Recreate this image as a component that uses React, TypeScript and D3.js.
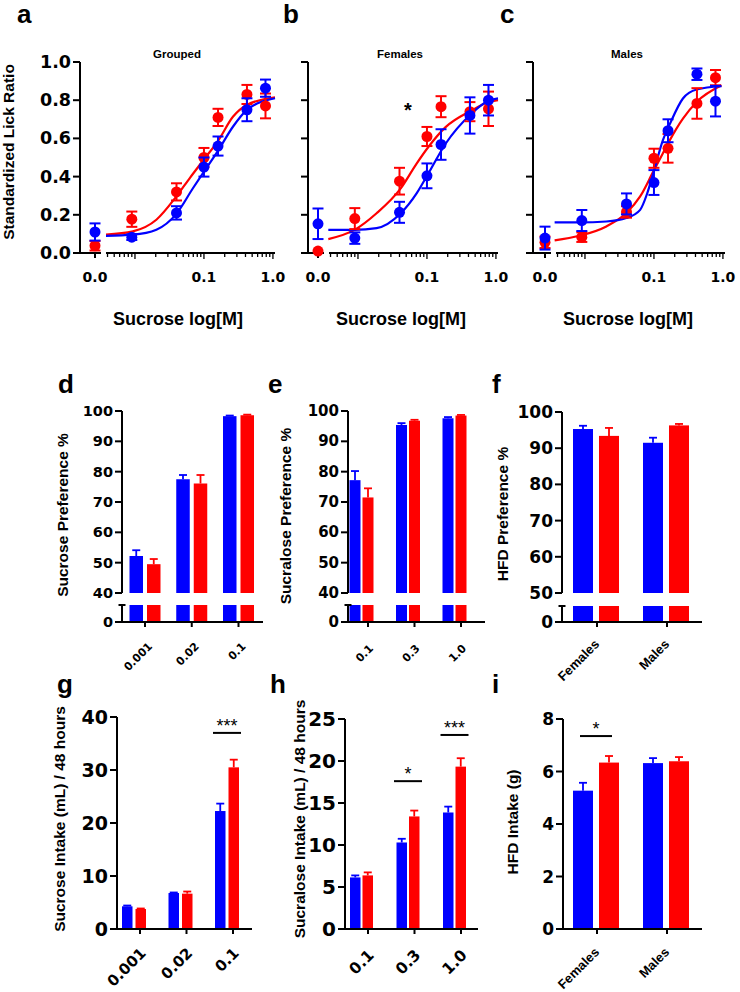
import React, { useEffect, useRef } from "react";
import * as d3 from "d3";

const W = 740;
const H = 992;
const BLUE = "#0000ff";
const RED = "#ff0000";
const TITLE_FONT = "Arial, 'Liberation Sans', sans-serif";
const TICK_FONT = "'DejaVu Sans', Verdana, sans-serif";

// ---- lick ratio curves (a-c) ----
const doses = [0, 0.009, 0.04, 0.1, 0.16, 0.42, 0.78];
const curveXTicks = [0.1, 1];
const curveYTicks = [0, 0.2, 0.4, 0.6, 0.8, 1.0];

const groupedBlue = [0.11, 0.083, 0.21, 0.45, 0.56, 0.75, 0.863];
const groupedBlueSem = [0.045, 0.015, 0.035, 0.05, 0.05, 0.06, 0.045];
const groupedRed = [0.038, 0.177, 0.32, 0.5, 0.71, 0.83, 0.77];
const groupedRedSem = [0.025, 0.04, 0.045, 0.05, 0.045, 0.05, 0.065];

const femaleBlue = [0.153, 0.078, 0.213, 0.404, 0.568, 0.72, 0.8];
const femaleBlueSem = [0.08, 0.03, 0.055, 0.065, 0.08, 0.095, 0.08];
const femaleRed = [0.01, 0.18, 0.376, 0.61, 0.766, 0.74, 0.755];
const femaleRedSem = [0, 0.055, 0.07, 0.05, 0.055, 0.05, 0.09];

const maleBlue = [0.078, 0.17, 0.257, 0.369, 0.64, 0.936, 0.795];
const maleBlueSem = [0.06, 0.055, 0.055, 0.065, 0.06, 0.03, 0.08];
const maleRed = [0.056, 0.083, 0.215, 0.496, 0.548, 0.783, 0.918];
const maleRedSem = [0.03, 0.025, 0.03, 0.05, 0.075, 0.08, 0.04];

// fitted curves: [log10 dose, ratio]
const groupedBlueFit: [number, number][] = [
  [-2.42, 0.09], [-2.03, 0.096], [-1.69, 0.122], [-1.4, 0.205], [-1.16, 0.339],
  [-1.0, 0.426], [-0.79, 0.539], [-0.58, 0.661], [-0.38, 0.748], [0.03, 0.81],
];
const groupedRedFit: [number, number][] = [
  [-2.42, 0.096], [-2.03, 0.113], [-1.69, 0.174], [-1.4, 0.296], [-1.2, 0.395],
  [-1.0, 0.49], [-0.79, 0.59], [-0.58, 0.713], [-0.38, 0.775], [0.03, 0.815],
];
const femaleBlueFit: [number, number][] = [
  [-2.43, 0.121], [-2.05, 0.121], [-1.73, 0.13], [-1.38, 0.208], [-1.15, 0.312],
  [-0.98, 0.416], [-0.73, 0.572], [-0.36, 0.728], [-0.11, 0.797], [0.03, 0.81],
];
const femaleRedFit: [number, number][] = [
  [-2.43, 0.073], [-2.05, 0.121], [-1.73, 0.208], [-1.38, 0.338], [-1.15, 0.468],
  [-0.98, 0.555], [-0.73, 0.659], [-0.36, 0.745], [-0.11, 0.789], [0.03, 0.8],
];
const maleBlueFit: [number, number][] = [
  [-2.44, 0.16], [-2.08, 0.16], [-1.69, 0.165], [-1.4, 0.183], [-1.2, 0.226],
  [-1.1, 0.31], [-1.01, 0.417], [-0.87, 0.591], [-0.77, 0.675], [-0.58, 0.809],
  [-0.38, 0.856], [-0.02, 0.873],
];
const maleRedFit: [number, number][] = [
  [-2.44, 0.066], [-2.08, 0.09], [-1.69, 0.139], [-1.4, 0.209], [-1.2, 0.296],
  [-1.01, 0.426], [-0.87, 0.522], [-0.77, 0.591], [-0.58, 0.704], [-0.38, 0.791],
  [-0.02, 0.878],
];

// ---- preference (d-f) ----
const sucroseCats = ["0.001", "0.02", "0.1"];
const sucralCats = ["0.1", "0.3", "1.0"];
const sexCats = ["Females", "Males"];

const sucPrefBlue = [52.2, 77.5, 98.3];
const sucPrefBlueErr = [1.9, 1.4, 0.2];
const sucPrefRed = [49.5, 76.1, 98.6];
const sucPrefRedErr = [1.7, 2.8, 0.2];

const sclPrefBlue = [77.2, 95.4, 97.6];
const sclPrefBlueErr = [3.0, 0.6, 0.4];
const sclPrefRed = [71.5, 96.8, 98.5];
const sclPrefRedErr = [3.0, 0.3, 0.2];

const hfdPrefBlue = [95.3, 91.5];
const hfdPrefBlueErr = [0.9, 1.4];
const hfdPrefRed = [93.4, 96.3];
const hfdPrefRedErr = [2.2, 0.4];

// ---- intake (g-i) ----
const sucIntBlue = [4.28, 6.79, 22.26];
const sucIntBlueErr = [0.15, 0.1, 1.4];
const sucIntRed = [3.77, 6.67, 30.5];
const sucIntRedErr = [0.1, 0.4, 1.45];

const sclIntBlue = [6.14, 10.3, 13.87];
const sclIntBlueErr = [0.24, 0.44, 0.7];
const sclIntRed = [6.38, 13.4, 19.33];
const sclIntRedErr = [0.36, 0.7, 1.0];

const hfdIntBlue = [5.27, 6.32];
const hfdIntBlueErr = [0.3, 0.19];
const hfdIntRed = [6.34, 6.39];
const hfdIntRedErr = [0.25, 0.16];

const prefTicks = [40, 50, 60, 70, 80, 90, 100];
const hfdPrefTicks = [50, 60, 70, 80, 90, 100];
const sucIntTicks = [0, 10, 20, 30, 40];
const sclIntTicks = [0, 5, 10, 15, 20, 25];
const hfdIntTicks = [0, 2, 4, 6, 8];

type Sel = d3.Selection<SVGGElement, unknown, null, undefined>;

function label(g: Sel, text: string, x: number, y: number, size: number, opts: any = {}) {
  const t = g
    .append("text")
    .attr("x", x)
    .attr("y", y)
    .attr("font-family", opts.font || TITLE_FONT)
    .attr("font-weight", opts.weight || "bold")
    .attr("font-size", size)
    .attr("text-anchor", opts.anchor || "middle")
    .attr("fill", "#000")
    .text(text);
  if (opts.rotate) t.attr("transform", `rotate(${opts.rotate},${x},${y})`);
  if (opts.baseline) t.attr("dominant-baseline", opts.baseline);
  return t;
}

interface CurvePanel {
  off: number;
  yAxisX: number;
  title: string;
  blue: number[];
  blueSem: number[];
  red: number[];
  redSem: number[];
  blueFit: [number, number][];
  redFit: [number, number][];
  yLabels: boolean;
  letter: string;
  letterX: number;
  star?: [number, number];
}

function drawCurvePanel(root: Sel, p: CurvePanel) {
  const g = root.append("g");
  const y = d3.scaleLinear().domain([0, 1]).range([253, 62]);
  const x = d3
    .scaleLog()
    .domain([10 ** -2.42, 10 ** 0.03])
    .range([p.off + 106, p.off + 275]);
  const zeroX = p.off + 95;
  const xPos = (d: number) => (d === 0 ? zeroX : x(d));

  // y axis
  g.append("line").attr("x1", p.yAxisX).attr("x2", p.yAxisX).attr("y1", y(1)).attr("y2", y(0))
    .attr("stroke", "#000").attr("stroke-width", 2);
  curveYTicks.forEach((t) => {
    g.append("line").attr("x1", p.yAxisX - 7).attr("x2", p.yAxisX).attr("y1", y(t)).attr("y2", y(t))
      .attr("stroke", "#000").attr("stroke-width", 2);
    if (p.yLabels)
      label(g, d3.format(".1f")(t), p.yAxisX - 9, y(t), 17.5, { anchor: "end", font: TICK_FONT, baseline: "central" });
  });

  // x axis: zero segment + log segment
  const ay = y(0);
  g.append("line").attr("x1", p.yAxisX).attr("x2", zeroX + 6).attr("y1", ay).attr("y2", ay)
    .attr("stroke", "#000").attr("stroke-width", 2);
  g.append("line").attr("x1", zeroX).attr("x2", zeroX).attr("y1", ay).attr("y2", ay + 5)
    .attr("stroke", "#000").attr("stroke-width", 2);
  const [d0, d1] = x.domain();
  g.append("line").attr("x1", x(d0)).attr("x2", x(d1)).attr("y1", ay).attr("y2", ay)
    .attr("stroke", "#000").attr("stroke-width", 2);
  const logTicks: { v: number; major: boolean }[] = [];
  for (let e = -3; e <= 0; e++) {
    for (let k = 1; k <= 9; k++) {
      const v = k * 10 ** e;
      if (v >= d0 && v <= d1) logTicks.push({ v, major: k === 1 });
    }
  }
  logTicks.forEach((t) => {
    g.append("line").attr("x1", x(t.v)).attr("x2", x(t.v)).attr("y1", ay).attr("y2", ay + (t.major ? 6 : 4))
      .attr("stroke", "#000").attr("stroke-width", 1.3);
  });
  label(g, "0.0", zeroX, 282, 14, { font: TICK_FONT });
  curveXTicks.forEach((t) => label(g, d3.format(".1f")(t), x(t), 282, 14, { font: TICK_FONT }));

  // fits
  const line = d3
    .line<[number, number]>()
    .x((d) => x(10 ** d[0]))
    .y((d) => y(d[1]))
    .curve(d3.curveMonotoneX);
  g.append("path").attr("d", line(p.redFit)).attr("fill", "none").attr("stroke", RED).attr("stroke-width", 2.2);
  g.append("path").attr("d", line(p.blueFit)).attr("fill", "none").attr("stroke", BLUE).attr("stroke-width", 2.2);

  const points = (vals: number[], sem: number[], color: string) => {
    vals.forEach((v, i) => {
      const cx = xPos(doses[i]);
      if (sem[i] > 0) {
        g.append("line").attr("x1", cx).attr("x2", cx).attr("y1", y(v - sem[i])).attr("y2", y(v + sem[i]))
          .attr("stroke", color).attr("stroke-width", 2);
        [v - sem[i], v + sem[i]].forEach((e) =>
          g.append("line").attr("x1", cx - 5.5).attr("x2", cx + 5.5).attr("y1", y(e)).attr("y2", y(e))
            .attr("stroke", color).attr("stroke-width", 2)
        );
      }
      g.append("circle").attr("cx", cx).attr("cy", y(v)).attr("r", 5.5).attr("fill", color);
    });
  };
  points(p.red, p.redSem, RED);
  points(p.blue, p.blueSem, BLUE);

  label(g, p.title, p.off + 177, 58, 11.5);
  label(g, "Sucrose log[M]", p.off + 178, 325, 18);
  label(g, p.letter, p.letterX, 23, 26, { anchor: "start" });
  if (p.star) label(g, "*", p.star[0], p.star[1], 20);
}

interface BarPanel {
  cats: string[];
  blue: number[];
  blueErr: number[];
  red: number[];
  redErr: number[];
  yAxisX: number;
  xEnd: number;
  centers: [number, number];
  barW: number;
  gap: number;
  tickShift: number;
  axisY: number;
  top: number;
  domain: [number, number];
  ticks: number[];
  brk?: { lowTop: number; upBottom: number; lowMax: number };
  tickSize: number;
  labelSize: number;
  labelFont: string;
  labelDx: number;
  labelDy: number;
  sig?: { cat: string; value: number; text: string; half: number }[];
  yTitle: string;
  yTitleX: number;
  yTitleY: number;
  letter: string;
  letterX: number;
  letterY: number;
}

function drawBarPanel(root: Sel, p: BarPanel) {
  const g = root.append("g");
  const upBottom = p.brk ? p.brk.upBottom : p.axisY;
  const yUp = d3.scaleLinear().domain(p.domain).range([upBottom, p.top]);
  const yLow = p.brk
    ? d3.scaleLinear().domain([0, p.brk.lowMax]).range([p.axisY, p.brk.lowTop]).clamp(true)
    : null;
  const xc = d3.scalePoint<string>().domain(p.cats).range(p.centers);

  const bars = (vals: number[], errs: number[], color: string, side: number) => {
    vals.forEach((v, i) => {
      const c = xc(p.cats[i]) as number;
      const bx = side < 0 ? c - p.gap / 2 - p.barW : c + p.gap / 2;
      if (yLow) {
        g.append("rect").attr("x", bx).attr("width", p.barW).attr("y", yLow(v))
          .attr("height", p.axisY - yLow(v)).attr("fill", color);
      }
      if (v > p.domain[0]) {
        g.append("rect").attr("x", bx).attr("width", p.barW).attr("y", yUp(v))
          .attr("height", upBottom - yUp(v)).attr("fill", color);
      }
      const mx = bx + p.barW / 2;
      const capW = Math.min(4, p.barW / 2 - 1);
      g.append("line").attr("x1", mx).attr("x2", mx).attr("y1", yUp(v)).attr("y2", yUp(v + errs[i]))
        .attr("stroke", color).attr("stroke-width", 1.8);
      g.append("line").attr("x1", mx - capW).attr("x2", mx + capW).attr("y1", yUp(v + errs[i]))
        .attr("y2", yUp(v + errs[i])).attr("stroke", color).attr("stroke-width", 1.8);
    });
  };
  bars(p.blue, p.blueErr, BLUE, -1);
  bars(p.red, p.redErr, RED, 1);

  // y axis
  const ax = p.yAxisX;
  g.append("line").attr("x1", ax).attr("x2", ax).attr("y1", upBottom).attr("y2", p.top)
    .attr("stroke", "#000").attr("stroke-width", 2);
  if (p.brk) {
    g.append("line").attr("x1", ax).attr("x2", ax).attr("y1", p.brk.lowTop).attr("y2", p.axisY)
      .attr("stroke", "#000").attr("stroke-width", 2);
    g.append("line").attr("x1", ax - 3.5).attr("x2", ax + 3.5).attr("y1", p.brk.lowTop).attr("y2", p.brk.lowTop)
      .attr("stroke", "#000").attr("stroke-width", 2);
  }
  p.ticks.forEach((t) => {
    const yy = yLow && t < p.domain[0] ? yLow(t) : yUp(t);
    g.append("line").attr("x1", ax - 7).attr("x2", ax).attr("y1", yy).attr("y2", yy)
      .attr("stroke", "#000").attr("stroke-width", 2);
    label(g, String(t), ax - 9, yy, p.tickSize, { anchor: "end", font: TICK_FONT, baseline: "central" });
  });

  // x axis
  g.append("line").attr("x1", ax - 1).attr("x2", p.xEnd).attr("y1", p.axisY).attr("y2", p.axisY)
    .attr("stroke", "#000").attr("stroke-width", 2);
  p.cats.forEach((c) => {
    const tx = (xc(c) as number) + p.tickShift;
    g.append("line").attr("x1", tx).attr("x2", tx).attr("y1", p.axisY).attr("y2", p.axisY + 5)
      .attr("stroke", "#000").attr("stroke-width", 2);
    const lx = tx + p.labelDx;
    const ly = p.axisY + p.labelDy;
    label(g, c, lx, ly, p.labelSize, { anchor: "end", font: p.labelFont, rotate: -45 });
  });

  (p.sig || []).forEach((s) => {
    const c = xc(s.cat) as number;
    const sy = yUp(s.value);
    g.append("line").attr("x1", c - s.half).attr("x2", c + s.half).attr("y1", sy).attr("y2", sy)
      .attr("stroke", "#000").attr("stroke-width", 2);
    label(g, s.text, c, sy - 1, 18, { weight: "normal" });
  });

  label(g, p.yTitle, p.yTitleX, p.yTitleY, 15.5, { rotate: -90 });
  label(g, p.letter, p.letterX, p.letterY, 26, { anchor: "start" });
}

const App: React.FC = () => {
  const ref = useRef<SVGSVGElement | null>(null);

  useEffect(() => {
    document.body.style.margin = "0";
    if (!ref.current) return;
    const svg = d3.select(ref.current);
    svg.selectAll("*").remove();
    svg.append("rect").attr("width", W).attr("height", H).attr("fill", "#fff");
    const root = svg.append("g") as unknown as Sel;

    drawCurvePanel(root, {
      off: 0, yAxisX: 80, title: "Grouped", blue: groupedBlue, blueSem: groupedBlueSem,
      red: groupedRed, redSem: groupedRedSem, blueFit: groupedBlueFit, redFit: groupedRedFit,
      yLabels: true, letter: "a", letterX: 17,
    });
    drawCurvePanel(root, {
      off: 223, yAxisX: 308, title: "Females", blue: femaleBlue, blueSem: femaleBlueSem,
      red: femaleRed, redSem: femaleRedSem, blueFit: femaleBlueFit, redFit: femaleRedFit,
      yLabels: false, letter: "b", letterX: 283, star: [408, 117],
    });
    drawCurvePanel(root, {
      off: 450, yAxisX: 533, title: "Males", blue: maleBlue, blueSem: maleBlueSem,
      red: maleRed, redSem: maleRedSem, blueFit: maleBlueFit, redFit: maleRedFit,
      yLabels: false, letter: "c", letterX: 500,
    });
    label(root, "Standardized Lick Ratio", 14, 152, 15.5, { rotate: -90 });

    const prefBrk = { lowTop: 605, upBottom: 593, lowMax: 5 };
    drawBarPanel(root, {
      cats: sucroseCats, blue: sucPrefBlue, blueErr: sucPrefBlueErr, red: sucPrefRed, redErr: sucPrefRedErr,
      yAxisX: 122, xEnd: 263, centers: [145, 238.5], barW: 13.5, gap: 4, tickShift: 0,
      axisY: 622, top: 411, domain: [40, 100], ticks: [0, ...prefTicks], brk: prefBrk,
      tickSize: 14.5, labelSize: 11, labelFont: TICK_FONT, labelDx: 8, labelDy: 25,
      yTitle: "Sucrose Preference %", yTitleX: 68, yTitleY: 515, letter: "d", letterX: 58, letterY: 393,
    });
    drawBarPanel(root, {
      cats: sucralCats, blue: sclPrefBlue, blueErr: sclPrefBlueErr, red: sclPrefRed, redErr: sclPrefRedErr,
      yAxisX: 348, xEnd: 485, centers: [361.5, 454.5], barW: 11, gap: 2, tickShift: 6.5,
      axisY: 622, top: 411, domain: [40, 100], ticks: [0, ...prefTicks], brk: prefBrk,
      tickSize: 15, labelSize: 11, labelFont: TICK_FONT, labelDx: 6, labelDy: 27,
      yTitle: "Sucralose Preference %", yTitleX: 291, yTitleY: 516, letter: "e", letterX: 268, letterY: 393,
    });
    drawBarPanel(root, {
      cats: sexCats, blue: hfdPrefBlue, blueErr: hfdPrefBlueErr, red: hfdPrefRed, redErr: hfdPrefRedErr,
      yAxisX: 562, xEnd: 702, centers: [596, 666], barW: 20, gap: 6, tickShift: 1,
      axisY: 622, top: 412, domain: [50, 100], ticks: [0, ...hfdPrefTicks],
      brk: { lowTop: 606, upBottom: 593, lowMax: 5 },
      tickSize: 17, labelSize: 13, labelFont: TITLE_FONT, labelDx: 3, labelDy: 23,
      yTitle: "HFD Preference %", yTitleX: 508, yTitleY: 514, letter: "f", letterX: 492, letterY: 393,
    });

    drawBarPanel(root, {
      cats: sucroseCats, blue: sucIntBlue, blueErr: sucIntBlueErr, red: sucIntRed, redErr: sucIntRedErr,
      yAxisX: 117, xEnd: 252, centers: [134, 227], barW: 10.5, gap: 3, tickShift: 6,
      axisY: 929, top: 717, domain: [0, 40], ticks: sucIntTicks,
      tickSize: 19, labelSize: 15, labelFont: TICK_FONT, labelDx: 7, labelDy: 25,
      sig: [{ cat: "0.1", value: 37, text: "***", half: 14 }],
      yTitle: "Sucrose Intake (mL) / 48 hours", yTitleX: 65, yTitleY: 819, letter: "g", letterX: 57, letterY: 693,
    });
    drawBarPanel(root, {
      cats: sucralCats, blue: sclIntBlue, blueErr: sclIntBlueErr, red: sclIntRed, redErr: sclIntRedErr,
      yAxisX: 345, xEnd: 478, centers: [361.5, 454.5], barW: 10.5, gap: 2, tickShift: 6.5,
      axisY: 929, top: 719, domain: [0, 25], ticks: sclIntTicks,
      tickSize: 20, labelSize: 15.5, labelFont: TICK_FONT, labelDx: 7, labelDy: 27,
      sig: [
        { cat: "0.3", value: 17.6, text: "*", half: 14 },
        { cat: "1.0", value: 23.1, text: "***", half: 14 },
      ],
      yTitle: "Sucralose Intake (mL) / 48 hours", yTitleX: 305, yTitleY: 819, letter: "h", letterX: 270, letterY: 693,
    });
    drawBarPanel(root, {
      cats: sexCats, blue: hfdIntBlue, blueErr: hfdIntBlueErr, red: hfdIntRed, redErr: hfdIntRedErr,
      yAxisX: 563, xEnd: 702, centers: [596, 666], barW: 20, gap: 6, tickShift: 1,
      axisY: 929, top: 719, domain: [0, 8], ticks: hfdIntTicks,
      tickSize: 17, labelSize: 13, labelFont: TITLE_FONT, labelDx: 3, labelDy: 24,
      sig: [{ cat: "Females", value: 7.35, text: "*", half: 16 }],
      yTitle: "HFD Intake (g)", yTitleX: 518, yTitleY: 822, letter: "i", letterX: 492, letterY: 693,
    });
  }, []);

  return <svg ref={ref} width={W} height={H} style={{ display: "block" }} />;
};

export default App;
